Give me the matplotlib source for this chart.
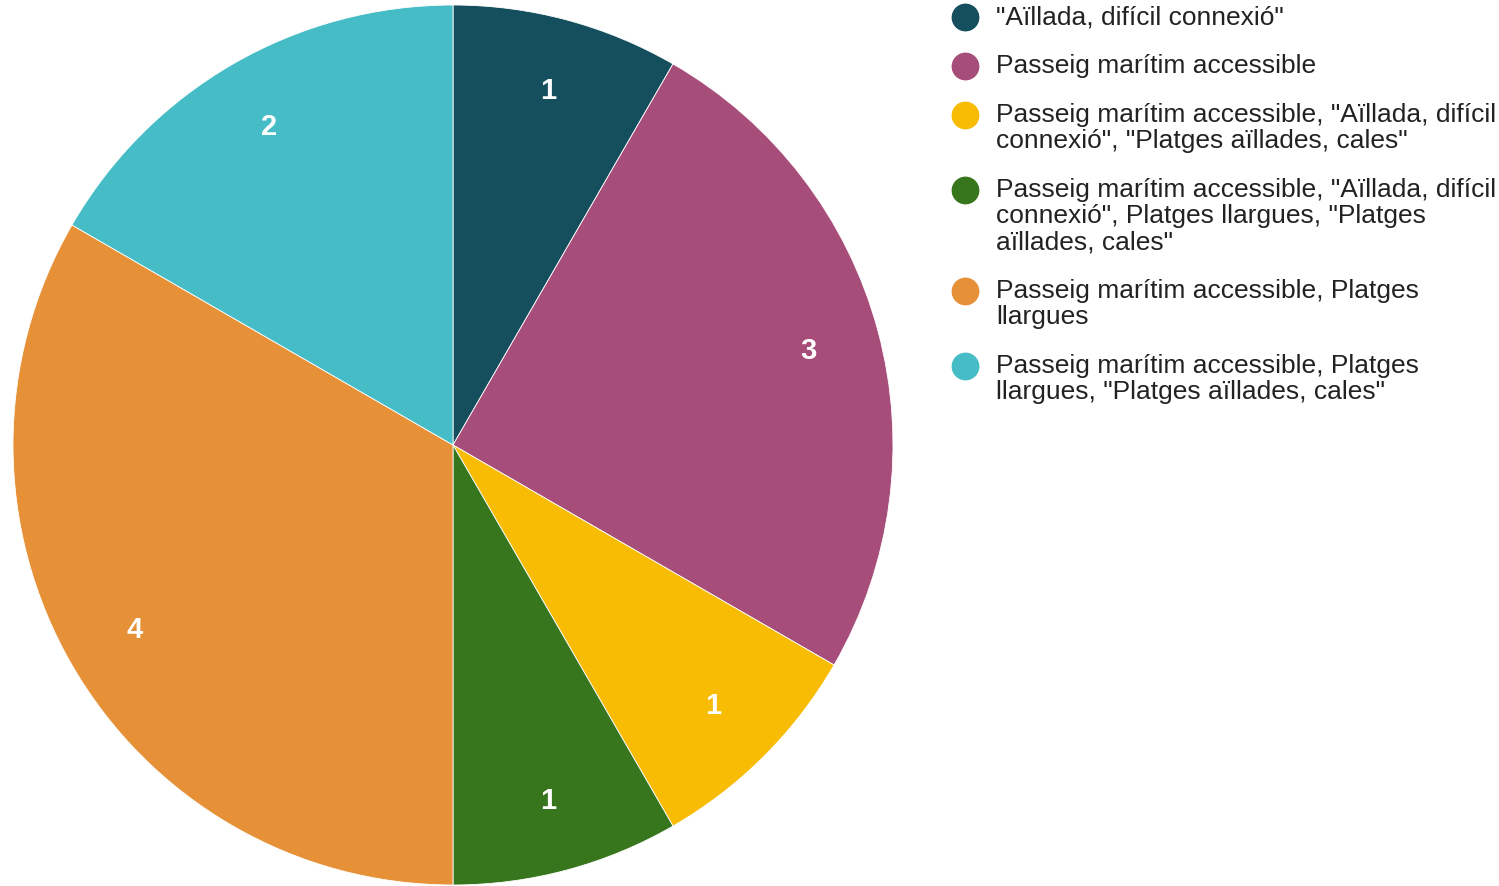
import matplotlib.pyplot as plt

plt.rcParams['font.family'] = ['Liberation Sans', 'DejaVu Sans']

categories = [
    '"Aïllada, difícil connexió"',
    'Passeig marítim accessible',
    'Passeig marítim accessible, "Aïllada, difícil\nconnexió", "Platges aïllades, cales"',
    'Passeig marítim accessible, "Aïllada, difícil\nconnexió", Platges llargues, "Platges\naïllades, cales"',
    'Passeig marítim accessible, Platges\nllargues',
    'Passeig marítim accessible, Platges\nllargues, "Platges aïllades, cales"',
]
values = [1, 3, 1, 1, 4, 2]
colors = ['#154f5d', '#a64d79', '#f8bc05', '#38761d', '#e69138', '#46bdc6']

W, H = 1499, 887
fig = plt.figure(figsize=(W / 100, H / 100), dpi=100)

# pie centre (453, 446) px, radius 440 px
cx, cy, r = 453, 446, 440
ax = fig.add_axes([(cx - r) / W, (H - cy - r) / H, 2 * r / W, 2 * r / H])
wedges, texts = ax.pie(values, colors=colors, startangle=90, counterclock=False,
                       labels=[str(v) for v in values], labeldistance=0.836,
                       wedgeprops=dict(edgecolor='white', linewidth=0.6),
                       textprops=dict(color='white', fontsize=21, fontweight='bold'))
for t in texts:
    t.set_ha('center')
    t.set_va('center')
ax.set_xlim(-1, 1)
ax.set_ylim(-1, 1)
ax.set_aspect('equal')
ax.axis('off')

# legend drawn by hand, marker aligned with first line
line_h = 26.3
gap = 22.5
y = 18
for label, col in zip(categories, colors):
    n = label.count('\n') + 1
    fig.lines.append(plt.Line2D([965 / W], [1 - y / H], marker='o', markersize=19,
                                color=col, transform=fig.transFigure))
    fig.text(996 / W, 1 - (y - 13) / H, label, fontsize=19, color='#222222',
             va='top', ha='left', linespacing=1.12)
    y += n * line_h + gap

fig.savefig('out.png', dpi=100, facecolor='white')
